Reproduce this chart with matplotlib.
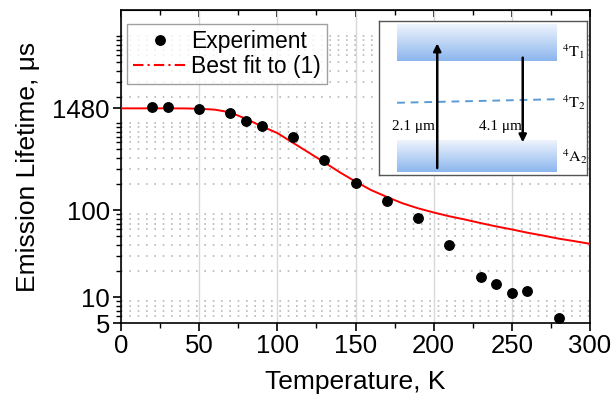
import numpy as np
import matplotlib
matplotlib.use("Agg")
import matplotlib.pyplot as plt
from matplotlib.lines import Line2D
from matplotlib.ticker import FixedLocator, NullFormatter

# ---------------- data ----------------
temp_exp = [20, 30, 50, 70, 80, 90, 110, 130, 150, 170, 190, 210, 230, 240, 250, 260, 280]
life_exp = [1550, 1550, 1445, 1300, 1060, 935, 700, 378, 204, 129, 81, 40, 17.2, 14.2, 11.3, 11.8, 5.8]

temp_fit = [0, 10, 20, 30, 40, 50, 60, 70, 80, 90, 100, 110, 120, 130, 140, 150,
            160, 170, 180, 190, 200, 210, 220, 230, 240, 250, 260, 270, 280, 290, 300]
life_fit = [1480, 1480, 1480, 1480, 1478, 1465, 1430, 1330, 1120, 920, 770, 595, 460, 355, 272, 213,
            170, 142, 120, 105, 94, 85, 78, 71, 65, 60, 55, 51, 47, 44, 41]

x_major = [0, 50, 100, 150, 200, 250, 300]
x_minor = [25, 75, 125, 175, 225, 275]
y_major = [5, 10, 100, 1480]
y_major_labels = ["5", "10", "100", "1480"]
y_minor = [6, 7, 8, 9, 20, 30, 40, 50, 60, 70, 80, 90,
           200, 300, 400, 500, 600, 700, 800, 900, 1000,
           2000, 3000, 4000, 5000, 6000, 7000, 8000, 9000, 10000]

legend_labels = ["Experiment", "Best fit to (1)"]
xlabel = "Temperature, K"
ylabel = "Emission Lifetime, \u03bcs"

# ---------------- figure ----------------
plt.rcParams['font.family'] = ['Liberation Sans', 'DejaVu Sans']
plt.rcParams['mathtext.fontset'] = 'stix'
fig = plt.figure(figsize=(6.12, 3.97), dpi=100)
ax = fig.add_axes([121/612, 1-323.3/397, (590-121)/612, (323.3-10)/397])

ax.set_yscale('log')
ax.set_xlim(0, 300)
ax.set_ylim(5, 20000)

ax.plot(temp_fit, life_fit, color='#ff0000', lw=1.4, zorder=3)
ax.plot(temp_exp, life_exp, 'o', color='black', ms=6.8, zorder=4)

ax.xaxis.set_major_locator(FixedLocator(x_major))
ax.xaxis.set_minor_locator(FixedLocator(x_minor))
ax.yaxis.set_major_locator(FixedLocator(y_major))
ax.set_yticklabels(y_major_labels)
ax.yaxis.set_minor_locator(FixedLocator(y_minor))
ax.yaxis.set_minor_formatter(NullFormatter())

ax.tick_params(axis='both', which='major', direction='out', length=6, width=1.2, labelsize=18.5, pad=2)
ax.tick_params(axis='both', which='minor', direction='out', length=3.5, width=1.0)

sec = ax.secondary_xaxis('top')
sec.xaxis.set_major_locator(FixedLocator(x_major))
sec.xaxis.set_minor_locator(FixedLocator(x_minor))
sec.tick_params(which='major', direction='in', length=5, width=1.2, labeltop=False)
sec.tick_params(which='minor', direction='in', length=3.5, width=1.0)

for s in ax.spines.values():
    s.set_linewidth(1.2)

ax.xaxis.grid(True, which='major', color='#d8d8d8', lw=1.0, zorder=0)
ax.yaxis.grid(True, which='minor', color='#b8b8b8', lw=1.2, ls=(0, (1, 4)), zorder=0)
ax.set_axisbelow(True)

ax.set_xlabel(xlabel, fontsize=19, labelpad=8)
ax.set_ylabel(ylabel, fontsize=19, labelpad=9)

handles = [Line2D([], [], marker='o', color='black', ls='none', ms=6.8),
           Line2D([], [], color='#ff0000', lw=1.5, ls=(0, (5, 2, 1, 2)))]
leg = ax.legend(handles, legend_labels, loc='upper left', fontsize=16.5,
                bbox_to_anchor=(127/612, 1-24/397), bbox_transform=fig.transFigure,
                borderaxespad=0, frameon=True, fancybox=False, edgecolor='#888888',
                handlelength=2.4, handletextpad=0.15, borderpad=0.25, labelspacing=0.1)
leg.get_frame().set_linewidth(1.0)

# ---------------- inset energy diagram ----------------
ins = fig.add_axes([379/612, 1-175/397, 208/612, 154/397])
ins.set_xlim(0, 1)
ins.set_ylim(0, 1)
ins.set_xticks([])
ins.set_yticks([])
for s in ins.spines.values():
    s.set_color('#555555')
    s.set_linewidth(1.0)
ins.set_zorder(5)

grad = np.linspace(0, 1, 64).reshape(-1, 1)
c_top = np.array([238, 244, 253]) / 255
c_bot = np.array([140, 182, 238]) / 255
img = c_bot[None, None, :] * (1 - grad[:, :, None]) + c_top[None, None, :] * grad[:, :, None]
ins.imshow(img, extent=(0.085, 0.854, 0.740, 0.974), origin='lower', aspect='auto', zorder=1)
ins.imshow(img, extent=(0.085, 0.854, 0.021, 0.227), origin='lower', aspect='auto', zorder=1)

ins.plot([0.087, 0.854], [0.469, 0.492], color='#5b9bd5', lw=1.4, ls=(0, (4, 3)), zorder=2)

ins.annotate('', xy=(0.280, 0.855), xytext=(0.280, 0.045),
             arrowprops=dict(arrowstyle='-|>', color='black', lw=1.8, mutation_scale=11,
                             shrinkA=0, shrinkB=0), zorder=3)
ins.annotate('', xy=(0.691, 0.212), xytext=(0.691, 0.762),
             arrowprops=dict(arrowstyle='-|>', color='black', lw=1.8, mutation_scale=11,
                             shrinkA=0, shrinkB=0), zorder=3)

serif = ['Liberation Serif', 'DejaVu Serif']
ins.text(0.164, 0.314, '2.1 \u03bcm', family=serif, fontsize=11, ha='center', va='center')
ins.text(0.584, 0.314, '4.1 \u03bcm', family=serif, fontsize=11, ha='center', va='center')
ins.text(0.880, 0.80, r'$^{4}\mathrm{T}_{1}$', fontsize=11.5, ha='left', va='center')
ins.text(0.880, 0.47, r'$^{4}\mathrm{T}_{2}$', fontsize=11.5, ha='left', va='center')
ins.text(0.880, 0.12, r'$^{4}\mathrm{A}_{2}$', fontsize=11.5, ha='left', va='center')

fig.savefig('out.png', dpi=100)
